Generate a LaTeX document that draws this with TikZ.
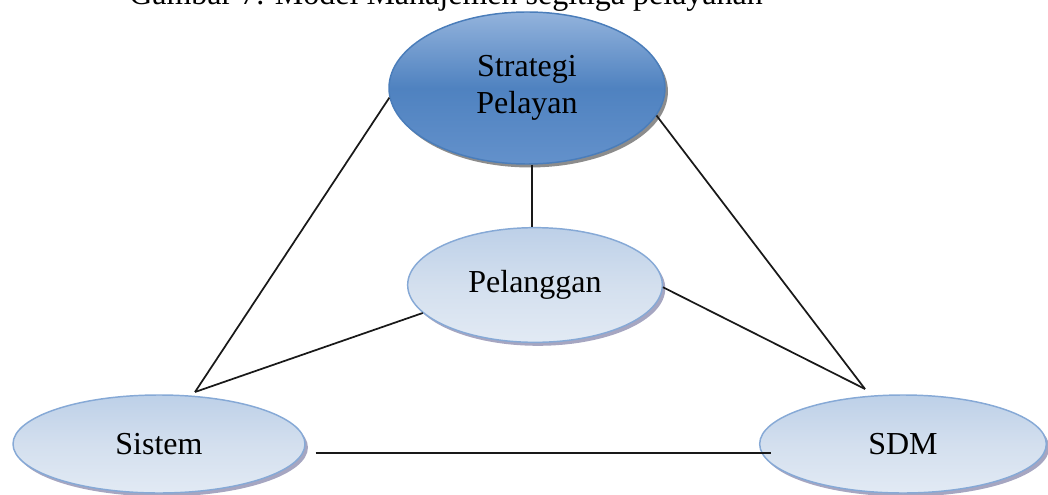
\documentclass[tikz,border=0pt]{standalone}
\usepackage{fontspec}
\setmainfont{Liberation Serif}
\usetikzlibrary{shapes.geometric,shadows}
\definecolor{lightTop}{HTML}{BDD0E8}
\definecolor{lightBot}{HTML}{E2EAF4}
\definecolor{lightMid}{HTML}{D3DFEE}
\definecolor{lightEdge}{HTML}{86A9D6}
\definecolor{darkTop}{HTML}{93B3DC}
\definecolor{darkMid}{HTML}{4F82C0}
\definecolor{darkBot}{HTML}{6391CB}
\definecolor{darkEdge}{HTML}{4A7DBA}
\tikzset{
  lbl/.style={font=\fontsize{24}{28}\selectfont, align=center},
  lightell/.style={ellipse, draw=lightEdge, line width=1.1pt, inner sep=0pt,
    top color=lightTop, bottom color=lightBot, middle color=lightMid, lbl,
    drop shadow={shadow xshift=2.2pt, shadow yshift=-2.6pt, fill=black!70!blue, opacity=0.35}},
  darkell/.style={ellipse, draw=darkEdge, line width=1.1pt, inner sep=0pt,
    top color=darkTop, bottom color=darkBot, middle color=darkMid, lbl,
    drop shadow={shadow xshift=2.2pt, shadow yshift=-2.6pt, fill=black, opacity=0.45}},
  link/.style={draw=black!90, line width=1.3pt}
}
\begin{document}
\begin{tikzpicture}[x=0.75pt,y=-0.75pt]
\useasboundingbox (0,0) rectangle (1048,495);
\node[anchor=base west, font=\fontsize{24}{28}\selectfont, inner sep=0pt] (title) at (129,5) {Gambar 7. Model Manajemen segitiga pelayanan};
\node[darkell, minimum width=207pt, minimum height=114pt] (strat) at (527,88) {Strategi\\Pelayan};
\node[lightell, minimum width=191pt, minimum height=86pt] (pel) at (535,285) {Pelanggan};
\node[lightell, minimum width=219pt, minimum height=73.5pt] (sis) at (159,444) {Sistem};
\node[lightell, minimum width=215pt, minimum height=73.5pt] (sdm) at (903,444) {SDM};
\coordinate (sistip) at (195,392);
\coordinate (sdmtip) at (865,389);
\draw[link] (strat.184) -- (sistip);
\draw[link] (pel.194) -- (sistip);
\draw[link] (strat.-12) -- (sdmtip);
\draw[link] (pel.-1) -- (sdmtip);
\draw[link] ([xshift=3.75pt]strat.south) -- ([xshift=3.75pt]strat.south |- pel.north);
\draw[link] ([shift={(10,9)}]sis.east) -- ([shift={(12,9)}]sdm.west);
\end{tikzpicture}
\end{document}
